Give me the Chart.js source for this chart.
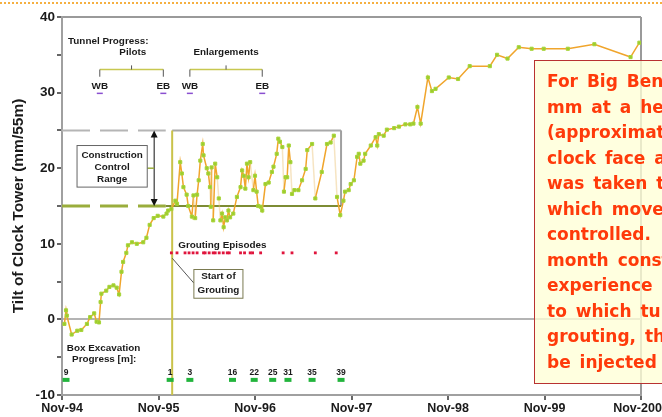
<!DOCTYPE html>
<html>
<head>
<meta charset="utf-8">
<script src="https://cdn.jsdelivr.net/npm/chart.js@4.4.1/dist/chart.umd.min.js"></script>
<style>
  body { margin: 0; background: #fff; overflow: hidden; }
  #wrap { position: relative; width: 662px; height: 417px; overflow: hidden; }
  #topline { position: absolute; left: 0; top: 2px; width: 662px; border-top: 2px dotted #f5b041; }
  #note {
    position: absolute; left: 534px; top: 60px; width: 200px; height: 324px;
    background: rgba(255, 255, 214, 0.78); border: 1.5px solid #b83232;
    overflow: hidden; padding: 8px 0 0 12px; box-sizing: border-box;
    font: bold 17px "DejaVu Sans", sans-serif; color: #ff3a0a; line-height: 25.5px;
    word-spacing: 3px; white-space: nowrap;
  }
</style>
</head>
<body>
<div id="wrap">
  <canvas id="tiltChart"></canvas>
  <div id="topline"></div>
  <div id="note">
    <div>For Big Ben</div>
    <div>mm at a height</div>
    <div>(approximately</div>
    <div>clock face and</div>
    <div>was taken to</div>
    <div>which movement</div>
    <div>controlled.</div>
    <div>month construction</div>
    <div>experience</div>
    <div>to which tunnelling</div>
    <div>grouting, the</div>
    <div>be injected</div>
  </div>
</div>
<script>
// x axis: months after Nov-94
const xTickLabels = ['Nov-94', 'Nov-95', 'Nov-96', 'Nov-97', 'Nov-98', 'Nov-99', 'Nov-2000'];

// tilt readings (mm/55m)
const tiltMonths = [
  0.3, 0.5, 0.6, 1.2, 1.9, 2.4, 3.1, 3.5, 4.0, 4.3, 4.6, 4.8, 4.9, 5.5, 5.9, 6.4, 6.8, 7.1, 7.4, 7.6,
  8.0, 8.2, 8.7, 9.3, 10.1, 10.5, 10.9, 11.4, 11.9, 12.6, 13.0, 13.2, 13.6, 14.1, 14.3, 14.7, 14.9, 15.1, 15.5, 15.7,
  16.15, 16.35, 16.56, 16.8, 17.0, 17.2, 17.5, 17.6, 18.0, 18.2, 18.4, 18.5, 18.6, 18.8, 19.05, 19.3, 19.5, 19.7, 19.9, 20.1,
  20.3, 20.5, 20.7, 20.9, 21.3, 21.75, 22.2, 22.4, 22.6, 22.8, 23.0, 23.2, 23.4, 23.8, 24.0, 24.2, 24.4, 24.7, 24.9, 25.3,
  25.7, 26.1, 26.3, 26.7, 26.9, 27.1, 27.4, 27.6, 27.8, 28.0, 28.2, 28.4, 28.6, 28.9, 29.4, 29.85, 30.3, 30.5, 31.1, 31.5,
  32.3, 32.95, 33.4, 33.8, 34.2, 34.6, 35.0, 35.2, 35.65, 35.9, 36.3, 36.7, 36.9, 37.1, 37.5, 37.7, 38.4, 39.0, 39.2, 39.4,
  40.0, 40.4, 41.3, 41.9, 42.7, 43.3, 43.7, 44.2, 44.6, 45.5, 46.0, 46.45, 48.1, 49.25, 50.7, 53.2, 54.1, 55.4, 56.8, 58.4,
  59.9, 62.9, 66.2, 70.7, 71.8
];
const tiltValues = [
  -0.6, 1.2, 0.5, -2.0, -1.5, -1.4, -0.6, 0.3, 0.8, -0.3, -0.4, 2.3, 3.4, 3.8, 4.3, 4.5, 4.2, 3.3, 6.3, 7.6,
  8.8, 9.8, 10.2, 10.0, 10.2, 10.8, 12.5, 13.4, 13.7, 13.6, 14.0, 14.4, 14.6, 15.7, 15.3, 20.8, 19.3, 17.5, 16.5, 15.0,
  13.6, 16.4, 13.4, 16.5, 18.4, 21.0, 23.2, 21.7, 20.0, 19.3, 17.5, 14.9, 20.1, 13.1, 20.6, 18.8, 16.0, 13.1, 14.0, 12.2,
  13.5, 13.1, 14.4, 13.5, 14.0, 16.2, 17.5, 19.7, 19.0, 17.3, 20.6, 18.8, 20.8, 17.1, 19.0, 16.9, 15.0, 14.9, 14.4, 17.9,
  18.1, 19.5, 20.2, 21.9, 23.9, 23.5, 22.8, 16.9, 18.8, 18.8, 23.0, 20.8, 16.6, 17.1, 17.1, 18.4, 19.9, 22.4, 23.2, 16.0,
  19.5, 23.2, 23.4, 24.3, 16.2, 13.8, 15.7, 16.9, 17.1, 17.9, 18.4, 21.5, 21.9, 20.6, 21.0, 21.9, 23.0, 24.1, 23.0, 24.5,
  24.3, 25.1, 25.3, 25.5, 25.8, 25.8, 25.9, 28.1, 25.9, 32.0, 30.2, 30.5, 32.0, 31.8, 33.5, 33.5, 35.0, 34.5, 36.0, 35.8,
  35.8, 35.8, 36.4, 34.7, 36.6
];

// grouting episodes, drawn as a row of red dots
const groutMonths = [13.6, 14.3, 15.3, 15.8, 16.3, 16.8, 17.6, 17.8, 18.3, 18.8, 19.05, 19.55, 20.05, 20.55, 20.8,
  22.2, 22.7, 23.4, 23.7, 24.7, 27.5, 28.6, 31.5, 34.1];
const groutRow = 8.8;

// box excavation progress [m]
const excavMonths = [0.5, 13.45, 15.9, 21.2, 23.9, 26.2, 28.1, 31.1, 34.7];
const excavLabels = ['9', '1', '3', '16', '22', '25', '31', '35', '39'];
const excavRow = -8;

// tunnel progress marks
const tunnelMonths = [4.7, 12.6, 15.9, 24.9];
const tunnelLabels = ['WB', 'EB', 'WB', 'EB'];

// construction control range and the grouted period
const rangeLow = 15;
const rangeHigh = 25;
const groutStart = 13.7;
const groutEnd = 34.7;

const labelFont = 'bold 9.9px "Liberation Sans", Arial, sans-serif';

// annotations drawn over the axes
const notesPlugin = {
  id: 'notes',
  beforeDatasetsDraw(chart) {
    const ctx = chart.ctx;
    const { x, y } = chart.scales;
    const area = chart.chartArea;
    const px = m => x.getPixelForValue(m);
    const py = v => y.getPixelForValue(v);

    function line(x1, y1, x2, y2, color, width, dash) {
      ctx.save();
      ctx.strokeStyle = color;
      ctx.lineWidth = width;
      ctx.setLineDash(dash || []);
      ctx.beginPath();
      ctx.moveTo(x1, y1);
      ctx.lineTo(x2, y2);
      ctx.stroke();
      ctx.restore();
    }

    // control range: dashed before grouting, box afterwards
    line(area.left, py(rangeHigh), px(12.9), py(rangeHigh), '#b5b5b5', 2, [28, 10]);
    line(area.left, py(rangeLow), px(12.9), py(rangeLow), '#9aad3c', 3, [28, 10]);
    line(px(groutStart), py(rangeHigh), px(groutEnd), py(rangeHigh), '#a8a8a8', 2);
    line(px(groutEnd), py(rangeHigh), px(groutEnd), py(rangeLow), '#a0a0a0', 2);
    line(px(12.9), py(rangeLow), px(groutEnd), py(rangeLow), '#7d8c34', 2);
    line(px(groutStart), py(rangeHigh), px(groutStart), area.bottom, '#c9c24a', 2);

    // double arrow
    const ax = px(11.46);
    line(ax, py(rangeHigh) + 4, ax, py(rangeLow) - 4, '#111', 1);
    ctx.fillStyle = '#111';
    ctx.beginPath();
    ctx.moveTo(ax, py(rangeHigh));
    ctx.lineTo(ax - 3.5, py(rangeHigh) + 7);
    ctx.lineTo(ax + 3.5, py(rangeHigh) + 7);
    ctx.fill();
    ctx.beginPath();
    ctx.moveTo(ax, py(rangeLow));
    ctx.lineTo(ax - 3.5, py(rangeLow) - 7);
    ctx.lineTo(ax + 3.5, py(rangeLow) - 7);
    ctx.fill();
    line(px(10.6), py(20), ax, py(20), '#9aad3c', 1.5);

    // Construction Control Range box
    const bx1 = px(1.87), bx2 = px(10.6), by1 = py(23.0), by2 = py(17.5);
    ctx.fillStyle = '#fff';
    ctx.fillRect(bx1, by1, bx2 - bx1, by2 - by1);
    ctx.strokeStyle = '#666';
    ctx.lineWidth = 1;
    ctx.strokeRect(bx1, by1, bx2 - bx1, by2 - by1);

    ctx.font = labelFont;
    ctx.fillStyle = '#1a1a1a';
    ctx.textBaseline = 'middle';
    ctx.textAlign = 'center';
    ctx.fillText('Construction', (bx1 + bx2) / 2, py(21.7));
    ctx.fillText('Control', (bx1 + bx2) / 2, py(20.1));
    ctx.fillText('Range', (bx1 + bx2) / 2, py(18.6));

    // tunnel progress
    ctx.textAlign = 'left';
    ctx.fillText('Tunnel Progress:', px(0.75), py(36.8));
    ctx.textAlign = 'center';
    ctx.fillText('Pilots', px(8.8), py(35.3));
    ctx.fillText('Enlargements', px(20.4), py(35.3));
    [[0, 1], [2, 3]].forEach(([a, b]) => {
      const x1 = px(tunnelMonths[a]), x2 = px(tunnelMonths[b]), mid = (x1 + x2) / 2;
      line(x1, py(33.05), x2, py(33.05), '#c8c850', 1.5);
      line(x1, py(33.05), x1, py(32.1), '#555', 1);
      line(x2, py(33.05), x2, py(32.1), '#555', 1);
      line(mid, py(33.05), mid, py(33.6), '#555', 1);
    });
    tunnelMonths.forEach((m, i) => {
      ctx.fillStyle = '#1a1a1a';
      ctx.fillText(tunnelLabels[i], px(m), py(30.8));
      line(px(m) - 3, py(29.9), px(m) + 3, py(29.9), '#8a4fd0', 1.5);
    });

    // grouting
    ctx.textAlign = 'left';
    ctx.fillText('Grouting Episodes', px(14.45), py(9.8));
    line(px(groutStart), py(8.1), px(16.4), py(4.8), '#555', 1);
    const gx1 = px(16.4), gx2 = px(22.5), gy1 = py(6.6), gy2 = py(2.8);
    ctx.fillStyle = '#fff';
    ctx.fillRect(gx1, gy1, gx2 - gx1, gy2 - gy1);
    ctx.strokeStyle = '#7a7a50';
    ctx.strokeRect(gx1, gy1, gx2 - gx1, gy2 - gy1);
    ctx.fillStyle = '#1a1a1a';
    ctx.textAlign = 'center';
    ctx.fillText('Start of', (gx1 + gx2) / 2, py(5.65));
    ctx.fillText('Grouting', (gx1 + gx2) / 2, py(3.9));

    // box excavation
    ctx.textAlign = 'left';
    ctx.fillText('Box Excavation', px(0.6), py(-3.8));
    ctx.fillText('Progress [m]:', px(1.25), py(-5.3));
    ctx.font = 'bold 8.5px "Liberation Sans", Arial, sans-serif';
    ctx.textAlign = 'center';
    excavMonths.forEach((m, i) => ctx.fillText(excavLabels[i], px(m), py(-7.0)));
  }
};

const ctx = document.getElementById('tiltChart').getContext('2d');

new Chart(ctx, {
  type: 'line',
  data: {
    datasets: [
      {
        label: 'Tilt',
        data: tiltMonths.map((m, i) => ({ x: m, y: tiltValues[i] })),
        borderColor: '#f0a52c',
        borderWidth: 1.5,
        pointStyle: 'rect',
        pointRadius: 2.2,
        pointBackgroundColor: '#9ccc2c',
        pointBorderColor: '#a8d43a',
        pointBorderWidth: 1,
        segment: {
          // falls after a peak are drawn faintly, as in the original
          borderColor: s => (s.p1.parsed.y < s.p0.parsed.y - 2.5 ? 'rgba(236,196,120,0.45)' : undefined)
        }
      },
      {
        label: 'Grouting episodes',
        data: groutMonths.map(m => ({ x: m, y: groutRow })),
        showLine: false,
        pointStyle: 'rect',
        pointRadius: 2,
        pointBackgroundColor: '#e0143c',
        pointBorderColor: '#e0143c',
        pointBorderWidth: 0
      },
      {
        label: 'Box excavation',
        data: excavMonths.map(m => ({ x: m, y: excavRow })),
        showLine: false,
        pointStyle: 'line',
        pointRadius: 3.5,
        pointBorderColor: '#22b43c',
        pointBorderWidth: 4
      }
    ]
  },
  options: {
    responsive: true,
    maintainAspectRatio: false,
    animation: false,
    layout: { padding: { top: 17, right: 21, left: 0, bottom: 0 } },
    plugins: { legend: { display: false }, tooltip: { enabled: false } },
    scales: {
      x: {
        type: 'linear',
        min: 0,
        max: 72,
        afterFit: s => { s.height = 22; s.paddingRight = 0; s.paddingLeft = 0; },
        border: { color: '#a0a0a0', width: 2 },
        grid: {
          color: c => (c.tick && c.tick.value === 72 ? '#9a9a9a' : 'rgba(0,0,0,0)'),
          lineWidth: 2,
          tickColor: '#666',
          tickLength: 5
        },
        ticks: {
          stepSize: 12,
          autoSkip: false,
          maxRotation: 0,
          padding: 1,
          color: '#1a1a1a',
          font: { family: '"Liberation Sans", Arial, sans-serif', size: 12.5, weight: 'bold' },
          callback: v => xTickLabels[v / 12]
        }
      },
      y: {
        min: -10,
        max: 40,
        afterFit: s => { s.width = 62; },
        border: { color: '#a0a0a0', width: 2 },
        grid: {
          color: c => {
            if (!c.tick) return 'rgba(0,0,0,0)';
            if (c.tick.value === 0) return '#b4b4b4';
            if (c.tick.value === 40) return '#9a9a9a';
            return 'rgba(0,0,0,0)';
          },
          lineWidth: 2,
          tickColor: '#666',
          tickLength: 5
        },
        ticks: {
          stepSize: 5,
          padding: 2,
          color: '#1a1a1a',
          font: { family: '"Liberation Sans", Arial, sans-serif', size: 13.5, weight: 'bold' },
          callback: v => (v % 10 === 0 ? String(v) : '')
        },
        title: {
          display: true,
          text: 'Tilt of Clock Tower (mm/55m)',
          color: '#1a1a1a',
          padding: { top: 9, bottom: 0 },
          font: { family: '"Liberation Sans", Arial, sans-serif', size: 15.5, weight: 'bold' }
        }
      }
    }
  },
  plugins: [notesPlugin]
});
</script>
</body>
</html>
